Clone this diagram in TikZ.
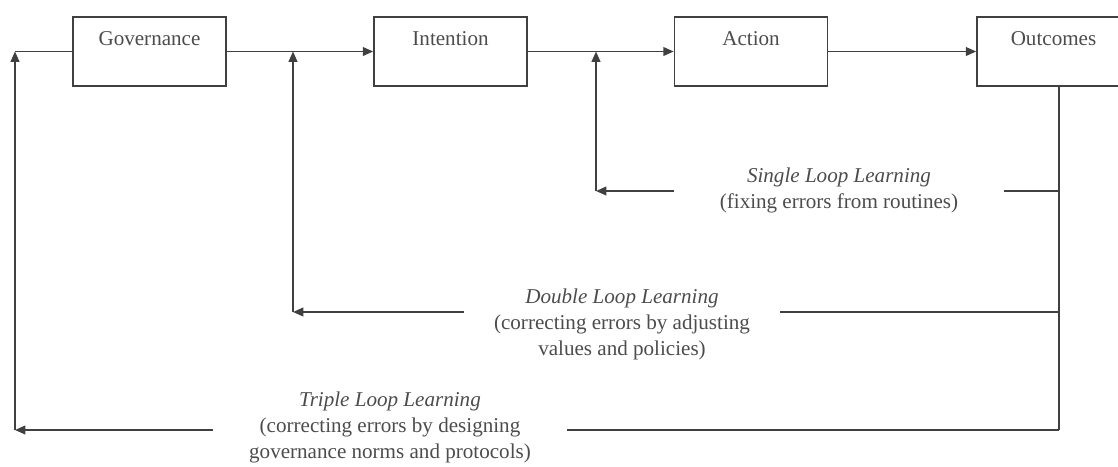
\documentclass[tikz,border=0pt]{standalone}
\usepackage{fontspec}
\setmainfont{Liberation Serif}
\usetikzlibrary{arrows.meta}

\begin{document}
\begin{tikzpicture}[
		every node/.style={font=\fontsize{15}{18.5}\selectfont, text=black!70},
		stage/.style={draw=black!75, line width=1.2pt, minimum width=3.825cm, inner xsep=0pt, inner ysep=0pt, text height=0.7cm, text depth=1.025cm},
		looplabel/.style={align=center, inner ysep=0pt},
		flow/.style={draw=black!75, line width=1.2pt},
		>={Triangle[length=2.6mm,width=2.2mm]}]
	\useasboundingbox (0,0) rectangle (27.95,-11.65);
	\node [stage] (gov) at (3.7375,-1.2875) {Governance};
	\node [stage] (int) at (11.2625,-1.2875) {Intention};
	\node [stage] (act) at (18.775,-1.2875) {Action};
	\node [stage] (out) at (26.3375,-1.2875) {Outcomes};
	\node [looplabel, inner xsep=1.15cm] (sll) at (20.975,-4.75) {\textit{Single Loop Learning}\\(fixing errors from routines)};
	\node [looplabel, inner xsep=0.75cm] (dll) at (15.55,-8.1) {\textit{Double Loop Learning}\\(correcting errors by adjusting\\values and policies)};
	\node [looplabel, inner xsep=0.9cm] (tll) at (9.75,-10.68) {\textit{Triple Loop Learning}\\(correcting errors by designing\\governance norms and protocols)};
	\coordinate (b1) at (0.375,-10.75);
	\coordinate (b2) at (7.325,-7.8);
	\coordinate (b3) at (14.9,-4.775);
	\coordinate (r1) at (26.475,-4.775);
	\coordinate (r2) at (26.475,-7.8);
	\coordinate (r3) at (26.475,-10.75);
	\draw [flow,->] (gov) -- (int);
	\draw [flow,->] (int) -- (act);
	\draw [flow,->] (act) -- (out);
	\draw [flow] (gov.west) -- (gov.west -| b1);
	\draw [flow] (out.south -| r3) -- (r3);
	% single loop
	\draw [flow] (r1) -- (sll.east |- r1);
	\draw [flow,->] (sll.west |- r1) -- (b3);
	\draw [flow,->] (b3) -- (int.east -| b3);
	% double loop
	\draw [flow] (r2) -- (dll.east |- r2);
	\draw [flow,->] (dll.west |- r2) -- (b2);
	\draw [flow,->] (b2) -- (gov.east -| b2);
	% triple loop
	\draw [flow] (r3) -- (tll.east |- r3);
	\draw [flow,->] (tll.west |- r3) -- (b1);
	\draw [flow,->] (b1) -- (gov.west -| b1);
\end{tikzpicture}
\end{document}
